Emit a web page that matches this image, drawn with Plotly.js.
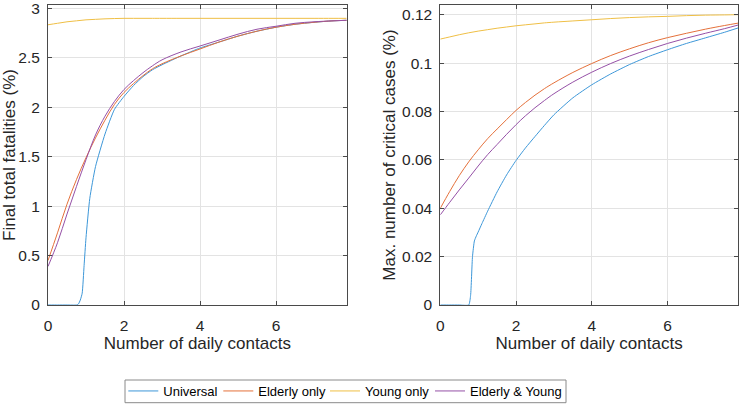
<!DOCTYPE html>
<html>
<head>
<meta charset="utf-8">
<script src="https://cdn.plot.ly/plotly-3.0.1.min.js"></script>
<style>html,body{margin:0;padding:0;background:#fff;width:739px;height:404px;overflow:hidden;}#chart{width:739px;height:412px;}</style>
</head>
<body>
<div id="chart"></div>
<script>
// Shared contact grid (number of daily contacts)
var xContacts = [0,0.25,0.5,0.75,1,1.25,1.5,1.75,2,2.25,2.5,2.75,3,3.5,4,4.5,5,5.5,6,6.5,7,7.5,7.86];
// Finer grid for the "Universal" strategy (sharp onset near 0.8)
var xUniversal = [0,0.25,0.5,0.75,0.8,0.85,0.9,0.95,1,1.1,1.25,1.5,1.75,2,2.25,2.5,2.75,3,3.5,4,4.5,5,5.5,6,6.5,7,7.5,7.86];

// Left panel: final total fatalities (%)
var fatalUniversal = [0,0,0,0,0.01,0.05,0.12,0.4,0.68,1.08,1.4,1.73,1.98,2.11,2.22,2.31,2.38,2.43,2.52,2.60,2.66,2.72,2.77,2.81,2.84,2.86,2.875,2.88];
var fatalElderly   = [0.45,0.73,1.02,1.27,1.49,1.69,1.87,2.03,2.15,2.24,2.32,2.39,2.44,2.52,2.59,2.66,2.72,2.77,2.81,2.84,2.86,2.875,2.88];
var fatalYoung     = [2.835,2.85,2.865,2.875,2.885,2.89,2.895,2.898,2.9,2.9,2.9,2.9,2.9,2.9,2.9,2.9,2.9,2.9,2.9,2.9,2.9,2.9,2.9];
var fatalBoth      = [0.39,0.63,0.92,1.2,1.47,1.72,1.91,2.06,2.18,2.27,2.35,2.42,2.48,2.56,2.62,2.68,2.74,2.79,2.82,2.85,2.865,2.875,2.88];

// Right panel: max. number of critical cases (%)
var critUniversal = [0,0,0,0,0.004,0.02,0.0265,0.0285,0.0302,0.0337,0.0388,0.0468,0.0538,0.0598,0.065,0.0697,0.0743,0.0787,0.0857,0.0911,0.0956,0.0995,0.1028,0.1056,0.1082,0.1105,0.1128,0.1146];
var critElderly   = [0.04,0.047,0.0535,0.0592,0.0642,0.0688,0.0728,0.0767,0.0805,0.0838,0.0868,0.0895,0.0919,0.0962,0.0999,0.1032,0.106,0.1085,0.1106,0.1124,0.1141,0.1156,0.1166];
var critYoung     = [0.11,0.1109,0.1118,0.1126,0.1133,0.1139,0.1145,0.115,0.1155,0.1159,0.1163,0.1167,0.117,0.1175,0.118,0.1185,0.1189,0.1192,0.1194,0.1197,0.1199,0.12,0.1201];
var critBoth      = [0.0373,0.0425,0.0476,0.0525,0.0575,0.0622,0.0664,0.0706,0.0746,0.0783,0.0816,0.0846,0.0874,0.0922,0.0963,0.0999,0.103,0.1057,0.1082,0.1104,0.1124,0.1143,0.1158];

var seriesNames = ['Universal','Elderly only','Young only','Elderly & Young'];
var xTicks = [0,2,4,6];
var xTickText = ['0','2','4','6'];
var yTicksLeft = [0,0.5,1,1.5,2,2.5,3];
var yTickTextLeft = ['0','0.5','1','1.5','2','2.5','3'];
var yTicksRight = [0,0.02,0.04,0.06,0.08,0.1,0.12];
var yTickTextRight = ['0','0.02','0.04','0.06','0.08','0.1','0.12'];

var colors = ['#3d97d8','#e4703a','#efbf45','#9550a6'];
var legendIds = ['legend','legend2','legend3','legend4'];
var FONT = 'Liberation Sans, Arial, Helvetica, sans-serif';
var TXT = '#262626';

// plot-area geometry (px) used to place legends/box in paper coords
var W = 739, H = 412;
var PL = 48, PW = 690, PT = 5, PH = 300;
function px2x(p) { return (p - PL) / PW; }
function px2y(p) { return (PT + PH - p) / PH; }

function tr(x, y, i, xa, ya, show) {
  return {x: x, y: y, type: 'scatter', mode: 'lines', name: seriesNames[i],
    xaxis: xa, yaxis: ya, showlegend: show, legend: legendIds[i],
    line: {color: colors[i], width: 1, shape: 'spline', smoothing: i === 0 ? 0.5 : 1},
    hoverinfo: 'skip'};
}

var data = [
  tr(xUniversal, fatalUniversal, 0, 'x', 'y', true),
  tr(xContacts, fatalElderly, 1, 'x', 'y', true),
  tr(xContacts, fatalYoung, 2, 'x', 'y', true),
  tr(xContacts, fatalBoth, 3, 'x', 'y', true),
  tr(xUniversal, critUniversal, 0, 'x2', 'y2', false),
  tr(xContacts, critElderly, 1, 'x2', 'y2', false),
  tr(xContacts, critYoung, 2, 'x2', 'y2', false),
  tr(xContacts, critBoth, 3, 'x2', 'y2', false)
];

function xax(domain, anchor) {
  return {domain: domain, anchor: anchor, range: [0, 7.86], tickvals: xTicks, ticktext: xTickText,
    ticks: 'inside', ticklen: 4, tickcolor: '#4a4a4a', showline: true, mirror: 'ticks',
    linecolor: '#4a4a4a', linewidth: 1, showgrid: true, gridcolor: '#e3e3e3', zeroline: false,
    ticklabelstandoff: 6,
    tickfont: {family: FONT, size: 15.5, color: TXT},
    title: {text: 'Number of daily contacts', font: {family: FONT, size: 17, color: TXT}, standoff: 4}};
}
function yax(range, vals, texts, title, anchor) {
  return {domain: [0, 1], anchor: anchor, range: range, tickvals: vals, ticktext: texts,
    ticks: 'inside', ticklen: 4, tickcolor: '#4a4a4a', showline: true, mirror: 'ticks',
    linecolor: '#4a4a4a', linewidth: 1, showgrid: true, gridcolor: '#e3e3e3', zeroline: false,
    ticklabelstandoff: 4, ticklabeloverflow: 'allow',
    tickfont: {family: FONT, size: 15.5, color: TXT},
    title: {text: title, font: {family: FONT, size: 17, color: TXT}, standoff: 2}};
}

var legendLineStarts = [128.3, 223.3, 330, 435];
var layout = {
  width: W, height: H,
  margin: {l: PL, r: W - PL - PW, t: PT, b: H - PT - PH},
  paper_bgcolor: '#ffffff', plot_bgcolor: '#ffffff',
  font: {family: FONT, color: TXT},
  xaxis: xax([0, px2x(346.7)], 'y'),
  xaxis2: xax([px2x(440.3), 1], 'y2'),
  yaxis: yax([0, 3.035], yTicksLeft, yTickTextLeft, 'Final total fatalities (%)', 'x'),
  yaxis2: yax([0, 0.1241], yTicksRight, yTickTextRight, 'Max. number of critical cases (%)', 'x2'),
  showlegend: true,
  shapes: [{type: 'rect', xref: 'paper', yref: 'paper', x0: px2x(125), x1: px2x(566), y0: px2y(380), y1: px2y(402.7),
    line: {color: '#8a8a8a', width: 1}, fillcolor: 'rgba(0,0,0,0)', layer: 'above'}]
};
legendIds.forEach(function(id, i) {
  layout[id] = {orientation: 'h', x: px2x(legendLineStarts[i] - 5), xanchor: 'left',
    y: px2y(391), yanchor: 'middle', borderwidth: 0, bgcolor: 'rgba(0,0,0,0)',
    font: {family: FONT, size: 13, color: '#000000'}};
});

Plotly.newPlot('chart', data, layout, {displayModeBar: false, staticPlot: true});
</script>
</body>
</html>
